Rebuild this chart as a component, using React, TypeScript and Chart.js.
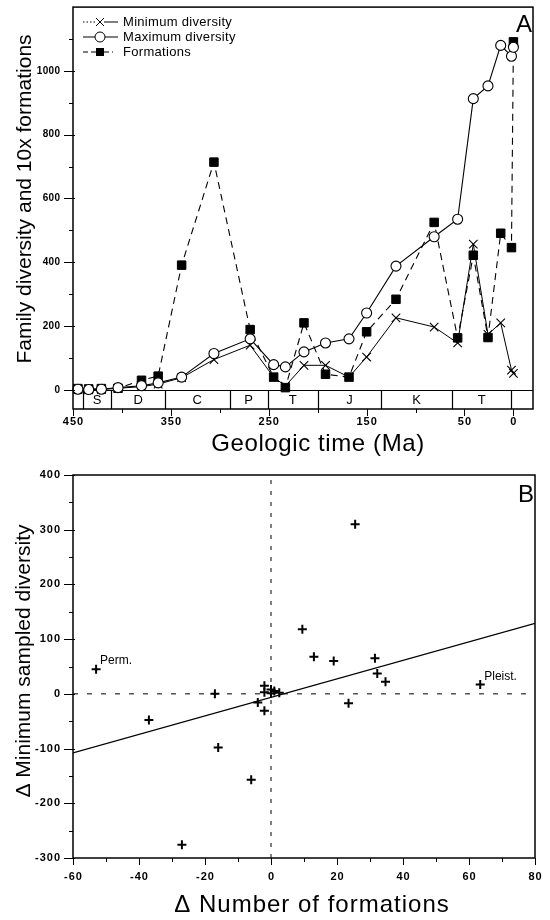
import React, { useEffect, useRef } from "react";
import { Chart, registerables } from "chart.js";

Chart.register(...registerables);

const FONT = '"Liberation Sans", Arial, Helvetica, sans-serif';

// ---------- Panel A: diversity through geologic time ----------
const stageAgesMa = [445, 434, 421, 404, 380, 363, 339, 306, 269, 245, 233, 214, 192, 168, 150, 120, 81, 57, 41, 26, 13, 2, 0];
const minimumDiversity = [1, 0, 1, 5, 10, 18, 38, 95, 140, 40, 12, 77, 77, 40, 103, 226, 197, 147, 457, 174, 210, 62, 52];
const maximumDiversity = [2, 1, 2, 7, 13, 22, 40, 114, 160, 79, 72, 119, 147, 160, 241, 388, 480, 535, 913, 953, 1080, 1046, 1074];
const formationsX10 = [4, 3, 4, 5, 30, 43, 391, 714, 189, 40, 7, 210, 49, 40, 182, 284, 525, 163, 422, 164, 491, 446, 1091];
const seriesNames = ["Minimum diversity", "Maximum diversity", "Formations"];

const periodBoundariesMa = [440, 411, 356, 290, 251, 200, 135, 63, 2];
const periodLabels = ["S", "D", "C", "P", "T", "J", "K", "T"];

const timeLabelTicks = [450, 350, 250, 150, 50, 0];
const timeMinorTicks = [400, 300, 200, 100];
const diversityLabelTicks = [0, 200, 400, 600, 800, 1000];
const diversityMinorTicks = [100, 300, 500, 700, 900, 1100];

// ---------- Panel B: change in diversity vs change in formations ----------
const deltaFormations = [-53, -37, -27, -17, -16, -6, -4, -2, -2, -2, 0, 0, 1, 2.5, 9.5, 13, 19, 23.5, 25.5, 31.5, 32.2, 34.7, 63.4];
const deltaDiversity = [45, -48, -276, 0, -98, -157, -16, -31, 15, 3, 8, 1, 5, 2, 118, 68, 60, -17, 310, 65, 37, 22, 17];
const pointNotes = [
  { text: "Perm.", x: -53, y: 45 },
  { text: "Pleist.", x: 63.4, y: 17 },
];
const fitLineEnds = [
  { x: -60, y: -108 },
  { x: 80, y: 129 },
];

const deltaFormLabelTicks = [-60, -40, -20, 0, 20, 40, 60, 80];
const deltaFormMinorTicks = [-50, -30, -10, 10, 30, 50, 70];
const deltaDivLabelTicks = [-300, -200, -100, 0, 100, 200, 300, 400];
const deltaDivMinorTicks = [-250, -150, -50, 50, 150, 250, 350];

type AxisSpec = {
  xMajor: number[];
  xMinor: number[];
  yMajor: number[];
  yMinor: number[];
  xLabelY: number;
  yLabelRight: number;
  xLabelFont: string;
  xLabelSpacing: number;
  yLabelFont: string;
  yLabelSpacing: number;
  xTitle: string;
  xTitleX: number;
  xTitleY: number;
  xTitleSpacing: number;
  yTitle: string;
  yTitleX: number;
  yTitleY: number;
  panelLetter: string;
  panelLetterY: number;
};

function drawAxes(chart: any, s: AxisSpec) {
  const { ctx, chartArea: a, scales } = chart;
  const xs = scales.x;
  const ys = scales.y;
  ctx.save();
  ctx.strokeStyle = "#000";
  ctx.fillStyle = "#000";

  // frame
  ctx.lineWidth = 1.5;
  ctx.strokeRect(a.left, a.top, a.right - a.left, a.bottom - a.top);

  // tick marks, outward
  ctx.lineWidth = 1;
  ctx.beginPath();
  for (const v of s.xMajor) {
    const p = Math.round(xs.getPixelForValue(v)) + 0.5;
    ctx.moveTo(p, a.bottom);
    ctx.lineTo(p, a.bottom + 7);
  }
  for (const v of s.xMinor) {
    const p = Math.round(xs.getPixelForValue(v)) + 0.5;
    ctx.moveTo(p, a.bottom);
    ctx.lineTo(p, a.bottom + 4);
  }
  for (const v of s.yMajor) {
    const p = Math.round(ys.getPixelForValue(v)) + 0.5;
    ctx.moveTo(a.left + 2, p);
    ctx.lineTo(a.left - 9, p);
  }
  for (const v of s.yMinor) {
    const p = Math.round(ys.getPixelForValue(v)) + 0.5;
    ctx.moveTo(a.left, p);
    ctx.lineTo(a.left - 4, p);
  }
  ctx.stroke();

  // tick labels
  ctx.textBaseline = "middle";
  ctx.textAlign = "center";
  ctx.font = s.xLabelFont;
  (ctx as any).letterSpacing = `${s.xLabelSpacing}px`;
  for (const v of s.xMajor) {
    ctx.fillText(String(v), xs.getPixelForValue(v) + s.xLabelSpacing / 2, s.xLabelY);
  }
  ctx.textAlign = "right";
  ctx.font = s.yLabelFont;
  (ctx as any).letterSpacing = `${s.yLabelSpacing}px`;
  for (const v of s.yMajor) {
    ctx.fillText(String(v), s.yLabelRight + s.yLabelSpacing, ys.getPixelForValue(v));
  }

  // axis titles
  ctx.textAlign = "center";
  ctx.font = `24px ${FONT}`;
  (ctx as any).letterSpacing = `${s.xTitleSpacing}px`;
  ctx.fillText(s.xTitle, s.xTitleX, s.xTitleY);
  (ctx as any).letterSpacing = "0px";
  ctx.font = `21px ${FONT}`;
  ctx.save();
  ctx.translate(s.yTitleX, s.yTitleY);
  ctx.rotate(-Math.PI / 2);
  ctx.fillText(s.yTitle, 0, 0);
  ctx.restore();

  // panel letter
  ctx.font = `24px ${FONT}`;
  ctx.textAlign = "right";
  ctx.textBaseline = "alphabetic";
  ctx.fillText(s.panelLetter, a.right - 1, s.panelLetterY);
  ctx.restore();
}

const periodBandPlugin = {
  id: "periodBand",
  beforeDatasetsDraw(chart: any) {
    const { ctx, chartArea: a, scales } = chart;
    const xs = scales.x;
    const y0 = Math.round(scales.y.getPixelForValue(0)) + 0.5;
    ctx.save();
    ctx.strokeStyle = "#000";
    ctx.lineWidth = 1.2;
    ctx.beginPath();
    ctx.moveTo(a.left, y0);
    ctx.lineTo(a.right, y0);
    for (const b of periodBoundariesMa) {
      const p = Math.round(xs.getPixelForValue(b)) + 0.5;
      ctx.moveTo(p, y0);
      ctx.lineTo(p, a.bottom);
    }
    ctx.stroke();
    ctx.fillStyle = "#000";
    ctx.font = `13px ${FONT}`;
    ctx.textAlign = "center";
    ctx.textBaseline = "middle";
    periodLabels.forEach((lab, i) => {
      const mid = (periodBoundariesMa[i] + periodBoundariesMa[i + 1]) / 2;
      ctx.fillText(lab, xs.getPixelForValue(mid), (y0 + a.bottom) / 2 + 1);
    });
    ctx.restore();
  },
};

function drawLegendA(chart: any) {
  const { ctx } = chart;
  const rows = [22, 37, 52];
  const x0 = 83;
  const x1 = 118;
  const xm = 100;
  ctx.save();
  ctx.strokeStyle = "#000";
  ctx.fillStyle = "#000";
  ctx.lineWidth = 1;

  // minimum diversity: dotted lead, cross marker, solid tail
  let y = rows[0];
  ctx.setLineDash([1.5, 2]);
  ctx.beginPath();
  ctx.moveTo(x0, y);
  ctx.lineTo(xm - 4, y);
  ctx.stroke();
  ctx.setLineDash([]);
  ctx.beginPath();
  ctx.moveTo(xm + 4, y);
  ctx.lineTo(x1, y);
  ctx.moveTo(xm - 4, y - 4);
  ctx.lineTo(xm + 4, y + 4);
  ctx.moveTo(xm - 4, y + 4);
  ctx.lineTo(xm + 4, y - 4);
  ctx.stroke();

  // maximum diversity: solid line, open circle
  y = rows[1];
  ctx.beginPath();
  ctx.moveTo(x0, y);
  ctx.lineTo(x1, y);
  ctx.stroke();
  ctx.beginPath();
  ctx.fillStyle = "#fff";
  ctx.arc(xm, y, 5, 0, Math.PI * 2);
  ctx.fill();
  ctx.stroke();
  ctx.fillStyle = "#000";

  // formations: dashed line, filled square
  y = rows[2];
  ctx.setLineDash([5, 3]);
  ctx.beginPath();
  ctx.moveTo(x0, y);
  ctx.lineTo(xm - 4, y);
  ctx.moveTo(xm + 4, y);
  ctx.lineTo(x1 - 5, y);
  ctx.stroke();
  ctx.setLineDash([]);
  ctx.fillRect(xm - 4, y - 4, 8, 8);

  ctx.font = `13px ${FONT}`;
  (ctx as any).letterSpacing = "0.3px";
  ctx.textAlign = "left";
  ctx.textBaseline = "middle";
  seriesNames.forEach((n, i) => ctx.fillText(n, 123, rows[i]));
  ctx.restore();
}

const axesAPlugin = {
  id: "axesA",
  afterDraw(chart: any) {
    drawAxes(chart, {
      xMajor: timeLabelTicks,
      xMinor: timeMinorTicks,
      yMajor: diversityLabelTicks,
      yMinor: diversityMinorTicks,
      xLabelY: 422,
      yLabelRight: 60,
      xLabelFont: `bold 11px ${FONT}`,
      xLabelSpacing: 1,
      yLabelFont: `bold 10px ${FONT}`,
      yLabelSpacing: 0.3,
      xTitle: "Geologic time (Ma)",
      xTitleX: 318,
      xTitleY: 444,
      xTitleSpacing: 0.6,
      yTitle: "Family diversity and 10x formations",
      yTitleX: 25,
      yTitleY: 199,
      panelLetter: "A",
      panelLetterY: 32,
    });
    drawLegendA(chart);
  },
};

const axesBPlugin = {
  id: "axesB",
  afterDraw(chart: any) {
    const { ctx, scales } = chart;
    ctx.save();
    ctx.fillStyle = "#000";
    ctx.font = `12px ${FONT}`;
    ctx.textAlign = "left";
    ctx.textBaseline = "alphabetic";
    for (const n of pointNotes) {
      ctx.fillText(n.text, scales.x.getPixelForValue(n.x) + 4, scales.y.getPixelForValue(n.y) - 5);
    }
    ctx.restore();
    drawAxes(chart, {
      xMajor: deltaFormLabelTicks,
      xMinor: deltaFormMinorTicks,
      yMajor: deltaDivLabelTicks,
      yMinor: deltaDivMinorTicks,
      xLabelY: 417,
      yLabelRight: 60,
      xLabelFont: `bold 11px ${FONT}`,
      xLabelSpacing: 1,
      yLabelFont: `bold 11px ${FONT}`,
      yLabelSpacing: 1,
      xTitle: "\u0394 Number of formations",
      xTitleX: 312,
      xTitleY: 445,
      xTitleSpacing: 1,
      yTitle: "\u0394 Minimum sampled diversity",
      yTitleX: 24,
      yTitleY: 201,
      panelLetter: "B",
      panelLetterY: 42,
    });
  },
};

const toPoints = (xs: number[], ys: number[]) => xs.map((x, i) => ({ x, y: ys[i] }));

export default function App() {
  const refA = useRef<HTMLCanvasElement>(null);
  const refB = useRef<HTMLCanvasElement>(null);

  useEffect(() => {
    const chartA = new Chart(refA.current as HTMLCanvasElement, {
      type: "line",
      data: {
        datasets: [
          {
            label: seriesNames[1],
            data: toPoints(stageAgesMa, maximumDiversity),
            borderColor: "#000",
            borderWidth: 1.1,
            pointStyle: "circle",
            pointRadius: 5,
            pointBackgroundColor: "#fff",
            pointBorderColor: "#000",
            pointBorderWidth: 1.1,
            tension: 0,
            clip: false,
            order: 0,
          } as any,
          {
            label: seriesNames[2],
            data: toPoints(stageAgesMa, formationsX10),
            borderColor: "#000",
            borderWidth: 1.1,
            borderDash: [7, 5],
            pointStyle: "rect",
            pointRadius: 6,
            pointBackgroundColor: "#000",
            pointBorderColor: "#000",
            pointBorderWidth: 1,
            tension: 0,
            clip: false,
            order: 1,
          } as any,
          {
            label: seriesNames[0],
            data: toPoints(stageAgesMa, minimumDiversity),
            borderColor: "#000",
            borderWidth: 1,
            pointStyle: "crossRot",
            pointRadius: 6,
            pointBorderColor: "#000",
            pointBorderWidth: 1.1,
            tension: 0,
            clip: false,
            order: 2,
          } as any,
        ],
      },
      options: {
        responsive: false,
        devicePixelRatio: 1,
        animation: false,
        layout: { padding: { left: 73, right: 17, top: 5, bottom: 51 } },
        scales: {
          x: { type: "linear", min: -20, max: 450, reverse: true, display: false },
          y: { type: "linear", min: -60, max: 1200, display: false },
        },
        plugins: { legend: { display: false }, tooltip: { enabled: false } },
      },
      plugins: [periodBandPlugin, axesAPlugin],
    });

    const chartB = new Chart(refB.current as HTMLCanvasElement, {
      type: "scatter",
      data: {
        datasets: [
          {
            label: "Intervals",
            data: toPoints(deltaFormations, deltaDiversity),
            showLine: false,
            pointStyle: "cross",
            pointRadius: 4.5,
            pointBorderColor: "#000",
            pointBorderWidth: 2,
            clip: false,
            order: 0,
          } as any,
          {
            label: "Regression",
            data: fitLineEnds,
            showLine: true,
            borderColor: "#000",
            borderWidth: 1.2,
            pointRadius: 0,
            order: 1,
          } as any,
          {
            label: "Zero formations",
            data: [
              { x: 0, y: -300 },
              { x: 0, y: 400 },
            ],
            showLine: true,
            borderColor: "#000",
            borderWidth: 1,
            borderDash: [4, 7],
            pointRadius: 0,
            order: 2,
          } as any,
          {
            label: "Zero diversity",
            data: [
              { x: -60, y: 0 },
              { x: 78, y: 0 },
            ],
            showLine: true,
            borderColor: "#000",
            borderWidth: 1,
            borderDash: [5, 9],
            pointRadius: 0,
            order: 3,
          } as any,
        ],
      },
      options: {
        responsive: false,
        devicePixelRatio: 1,
        animation: false,
        layout: { padding: { left: 73, right: 15, top: 15, bottom: 62 } },
        scales: {
          x: { type: "linear", min: -60, max: 80, display: false },
          y: { type: "linear", min: -300, max: 400, display: false },
        },
        plugins: { legend: { display: false }, tooltip: { enabled: false } },
      },
      plugins: [axesBPlugin],
    });

    return () => {
      chartA.destroy();
      chartB.destroy();
    };
  }, []);

  return (
    <div style={{ position: "absolute", left: 0, top: 0, width: 550, height: 920, background: "#fff" }}>
      <canvas ref={refA} width={550} height={460} style={{ position: "absolute", left: 0, top: 0 }} />
      <canvas ref={refB} width={550} height={460} style={{ position: "absolute", left: 0, top: 460 }} />
    </div>
  );
}
